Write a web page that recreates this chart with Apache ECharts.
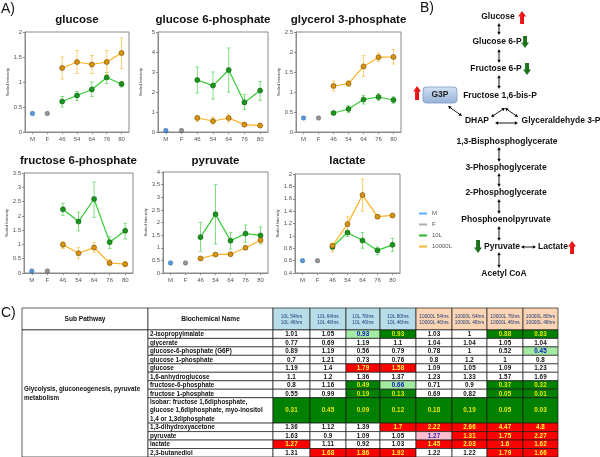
<!DOCTYPE html>
<html><head><meta charset="utf-8">
<script src="https://cdn.jsdelivr.net/npm/echarts@6/dist/echarts.min.js"></script>
<style>html,body{margin:0;padding:0;background:#fff}#c{width:600px;height:457px}</style>
</head><body><div id="c"></div>
<script>
// ---------------- DATA ----------------
const categories = ['M', 'F', '46', '54', '64', '76', '80'];
const plotTitles = ['glucose', 'glucose 6-phosphate', 'glycerol 3-phosphate', 'fructose 6-phosphate', 'pyruvate', 'lactate'];
const yMins = [0, 0, 0, 0, 0, 0.4];
const yMaxs = [2, 5, 2.5, 3.5, 4, 2];
const yIntervals = [0.5, 1, 0.5, 0.5, 0.5, 0.2];
const maleValues = [0.37, 0.07, 0.35, 0.07, 0.40, 0.60];
const femaleValues = [0.37, 0.07, 0.35, 0.07, 0.40, 0.60];
const tenL = [
  [0.61, 0.73, 0.85, 1.09, 0.96],
  [2.60, 2.32, 3.10, 1.48, 2.07],
  [0.475, 0.575, 0.81, 0.875, 0.80],
  [2.23, 1.80, 2.59, 1.08, 1.48],
  [1.42, 2.33, 1.28, 1.56, 1.49],
  [0.82, 1.055, 0.925, 0.765, 0.855]
];
const tenLLow = [
  [0.50, 0.63, 0.71, 0.97, 0.90],
  [1.95, 1.65, 2.00, 1.12, 1.58],
  [0.44, 0.49, 0.70, 0.79, 0.72],
  [2.01, 1.47, 1.95, 0.86, 1.19],
  [0.86, 1.15, 0.95, 1.22, 1.15],
  [0.79, 0.99, 0.80, 0.695, 0.75]
];
const tenLHigh = [
  [0.71, 0.81, 1.00, 1.19, 1.01],
  [3.25, 3.00, 4.20, 1.88, 2.52],
  [0.51, 0.66, 0.91, 0.96, 0.88],
  [2.44, 2.13, 3.18, 1.27, 1.74],
  [2.00, 3.50, 1.61, 1.90, 1.83],
  [0.87, 1.15, 1.055, 0.82, 0.96]
];
const tenThousandL = [
  [1.28, 1.40, 1.35, 1.40, 1.58],
  [0.70, 0.55, 0.70, 0.37, 0.32],
  [1.15, 1.21, 1.64, 1.87, 1.875],
  [0.99, 0.69, 0.89, 0.35, 0.31],
  [0.575, 0.73, 0.745, 1.00, 1.30],
  [0.84, 1.19, 1.66, 1.31, 1.33]
];
const tenThousandLLow = [
  [1.06, 1.17, 1.17, 1.15, 1.27],
  [0.53, 0.40, 0.50, 0.27, 0.23],
  [1.025, 1.14, 1.39, 1.77, 1.70],
  [0.86, 0.50, 0.73, 0.26, 0.24],
  [0.54, 0.69, 0.71, 0.95, 1.18],
  [0.74, 1.08, 1.40, 1.28, 1.30]
];
const tenThousandLHigh = [
  [1.50, 1.63, 1.53, 1.63, 1.88],
  [0.83, 0.75, 0.90, 0.47, 0.40],
  [1.275, 1.28, 1.91, 1.975, 2.06],
  [1.10, 0.89, 1.07, 0.47, 0.40],
  [0.61, 0.77, 0.78, 1.05, 1.44],
  [0.88, 1.31, 1.92, 1.34, 1.36]
];
const legendNames = ['M', 'F', '10L', '10000L'];

const pathwayNodes = ['Glucose', 'Glucose 6-P', 'Fructose 6-P', 'Fructose 1,6-bis-P', 'DHAP', 'Glyceraldehyde 3-P',
  '1,3-Bisphosphoglycerate', '3-Phosphoglycerate', '2-Phosphoglycerate', 'Phosphoenolpyruvate', 'Pyruvate', 'Lactate', 'Acetyl CoA'];
const pathwayChange = { 'Glucose': 'up', 'Glucose 6-P': 'down', 'Fructose 6-P': 'down', 'G3P': 'up', 'Pyruvate': 'down', 'Lactate': 'up' };

const tableHeaders = ['Sub Pathway', 'Biochemical Name'];
const comparisonHeaders = ['10L 54hrs\n10L 46hrs', '10L 64hrs\n10L 46hrs', '10L 76hrs\n10L 46hrs', '10L 80hrs\n10L 46hrs',
  '10000L 54hrs\n10000L 46hrs', '10000L 64hrs\n10000L 46hrs', '10000L 76hrs\n10000L 46hrs', '10000L 80hrs\n10000L 46hrs'];
const subPathway = 'Glycolysis, gluconeogenesis, pyruvate\nmetabolism';
const biochemicalNames = ['2-isopropylmalate', 'glycerate', 'glucose-6-phosphate (G6P)', 'glucose 1-phosphate', 'glucose',
  '1,6-anhydroglucose', 'fructose-6-phosphate', 'fructose 1-phosphate',
  'Isobar: fructose 1,6diphosphate,\nglucose 1,6diphosphate, myo-inositol\n1,4 or 1,3diphosphate',
  '1,3-dihydroxyacetone', 'pyruvate', 'lactate', '2,3-butanediol'];
const foldChange = [
  [1.01, 1.05, 0.93, 0.93, 1.03, 1, 0.88, 0.83],
  [0.77, 0.69, 1.19, 1.1, 1.04, 1.04, 1.05, 1.04],
  [0.89, 1.19, 0.56, 0.79, 0.78, 1, 0.52, 0.45],
  [0.7, 1.21, 0.73, 0.76, 0.8, 1.2, 1, 0.8],
  [1.19, 1.4, 1.79, 1.58, 1.09, 1.05, 1.09, 1.23],
  [1.1, 1.2, 1.36, 1.37, 1.23, 1.33, 1.57, 1.69],
  [0.8, 1.16, 0.49, 0.66, 0.71, 0.9, 0.37, 0.32],
  [0.55, 0.99, 0.19, 0.13, 0.69, 0.82, 0.05, 0.01],
  [0.31, 0.45, 0.09, 0.12, 0.18, 0.19, 0.05, 0.03],
  [1.36, 1.12, 1.39, 1.7, 2.22, 2.66, 4.47, 4.8],
  [1.63, 0.9, 1.09, 1.05, 1.27, 1.31, 1.75, 2.27],
  [1.27, 1.11, 0.92, 1.03, 1.45, 2.03, 1.6, 1.62],
  [1.31, 1.68, 1.86, 1.92, 1.22, 1.22, 1.79, 1.66]
];
// D = significant decrease, d = trend decrease, U = significant increase, u = trend increase, . = none
const significance = ['..dD..DD', '........', '.......d', '........', '..UU....', '........', '..Dd..DD',
  '..DD..DD', 'DDDDDDDD', '...UUUUU', '....uUUU', 'U...UUUU', '.UUU..UU'];

// ---------------- LAYOUT / STYLE ----------------
const FONT = "'Liberation Sans', Arial, Helvetica, sans-serif";
const plotBoxes = [[25, 32, 104, 100], [158, 32, 110, 100], [296, 32, 105, 100],
                   [24, 173, 109, 100], [163, 172, 105, 101], [295, 174, 105, 99]];
const titleY = [20, 20, 20, 161, 161, 161];
const C = {
  m: '#2a7fd4', mBorder: '#1a4f8a', f: '#7a7a7a', fBorder: '#444',
  gLine: '#33cc33', gMark: '#1c951c', gBorder: '#0d5a0d', gErr: '#80e080',
  oLine: '#ffb020', oMark: '#d99410', oBorder: '#6e4a00', oErr: '#ffcf70'
};
const sigStyle = {
  'D': { fill: '#008000', text: '#e8e800' },
  'd': { fill: '#a3eaa3', text: '#1010c0' },
  'U': { fill: '#ff0000', text: '#ffff30' },
  'u': { fill: '#ffbfd0', text: '#2a2ab0' },
  '.': { fill: '#ffffff', text: '#111111' }
};

const chart = echarts.init(document.getElementById('c'), null, { renderer: 'canvas' });

const grids = [], xAxes = [], yAxes = [], series = [], graphics = [];

function errRender(params, api) {
  const x = api.value(0), lo = api.value(1), hi = api.value(2);
  const p1 = api.coord([x, lo]), p2 = api.coord([x, hi]);
  const w = 1.8;
  const st = { stroke: api.visual('color'), lineWidth: 1 };
  return { type: 'group', children: [
    { type: 'line', shape: { x1: p1[0], y1: p1[1], x2: p2[0], y2: p2[1] }, style: st },
    { type: 'line', shape: { x1: p1[0] - w, y1: p1[1], x2: p1[0] + w, y2: p1[1] }, style: st },
    { type: 'line', shape: { x1: p2[0] - w, y1: p2[1], x2: p2[0] + w, y2: p2[1] }, style: st }
  ]};
}

plotBoxes.forEach((b, i) => {
  grids.push({ left: b[0], top: b[1], width: b[2], height: b[3], show: true, borderColor: '#8a8a8a', borderWidth: 1, backgroundColor: '#fff' });
  xAxes.push({
    type: 'category', gridIndex: i, data: categories, boundaryGap: true,
    axisLine: { show: true, lineStyle: { color: '#8a8a8a', width: 1 } },
    axisTick: { show: true, alignWithLabel: true, length: 2, lineStyle: { color: '#8a8a8a' } },
    axisLabel: { fontSize: 6, color: '#555', margin: 4, fontFamily: FONT, interval: 0 },
    splitLine: { show: false }
  });
  yAxes.push({
    type: 'value', gridIndex: i, min: yMins[i], max: yMaxs[i], interval: yIntervals[i],
    axisLine: { show: true, lineStyle: { color: '#8a8a8a', width: 1 } },
    axisTick: { show: true, length: 2, lineStyle: { color: '#8a8a8a' } },
    axisLabel: { fontSize: 6, color: '#555', margin: 3, fontFamily: FONT },
    splitLine: { show: false },
    name: 'Scaled Intensity', nameLocation: 'middle', nameGap: 15,
    nameTextStyle: { fontSize: 4, color: '#333', fontFamily: FONT }
  });
  series.push({
    name: 'M', type: 'scatter', xAxisIndex: i, yAxisIndex: i, z: 4,
    data: [[0, maleValues[i]]], symbolSize: 4.5,
    itemStyle: { color: C.m, borderColor: C.mBorder, borderWidth: 0.5 }
  });
  series.push({
    name: 'F', type: 'scatter', xAxisIndex: i, yAxisIndex: i, z: 4,
    data: [[1, femaleValues[i]]], symbolSize: 4.5,
    itemStyle: { color: C.f, borderColor: C.fBorder, borderWidth: 0.5 }
  });
  series.push({
    name: '10L err', type: 'custom', xAxisIndex: i, yAxisIndex: i, z: 1,
    renderItem: errRender, itemStyle: { color: C.gErr }, encode: { x: 0, y: [1, 2] },
    data: tenL[i].map((v, k) => [k + 2, tenLLow[i][k], tenLHigh[i][k]])
  });
  series.push({
    name: '10000L err', type: 'custom', xAxisIndex: i, yAxisIndex: i, z: 1,
    renderItem: errRender, itemStyle: { color: C.oErr }, encode: { x: 0, y: [1, 2] },
    data: tenThousandL[i].map((v, k) => [k + 2, tenThousandLLow[i][k], tenThousandLHigh[i][k]])
  });
  series.push({
    name: '10L', type: 'line', xAxisIndex: i, yAxisIndex: i, z: 3,
    data: categories.map((c, k) => k < 2 ? '-' : tenL[i][k - 2]),
    symbol: 'circle', symbolSize: 5, showSymbol: true,
    lineStyle: { color: C.gLine, width: 1.2 },
    itemStyle: { color: C.gMark, borderColor: C.gBorder, borderWidth: 0.6 }
  });
  series.push({
    name: '10000L', type: 'line', xAxisIndex: i, yAxisIndex: i, z: 3,
    data: categories.map((c, k) => k < 2 ? '-' : tenThousandL[i][k - 2]),
    symbol: 'circle', symbolSize: 5, showSymbol: true,
    lineStyle: { color: C.oLine, width: 1.2 },
    itemStyle: { color: C.oMark, borderColor: C.oBorder, borderWidth: 0.6 }
  });
  graphics.push({
    type: 'text', silent: true,
    style: { text: plotTitles[i], x: b[0] + b[2] / 2, y: titleY[i], align: 'center', verticalAlign: 'middle',
      fontSize: 11.5, fontWeight: 'bold', fontFamily: FONT, fill: '#111' }
  });
});

// panel labels
[['A)', 1, 9], ['B)', 420, 8], ['C)', 1, 313]].forEach(p => graphics.push({
  type: 'text', silent: true,
  style: { text: p[0], x: p[1], y: p[2], verticalAlign: 'middle', fontSize: 14, fontFamily: FONT, fill: '#111' }
}));

// ---------------- PATHWAY (B) ----------------
const nodePos = {
  'Glucose': [498, 17], 'Glucose 6-P': [497, 42], 'Fructose 6-P': [496, 69], 'Fructose 1,6-bis-P': [500, 96],
  'DHAP': [477, 121], 'Glyceraldehyde 3-P': [561, 121], '1,3-Bisphosphoglycerate': [507, 142],
  '3-Phosphoglycerate': [506, 168], '2-Phosphoglycerate': [506, 193], 'Phosphoenolpyruvate': [506, 220],
  'Pyruvate': [502, 247], 'Lactate': [553, 247], 'Acetyl CoA': [504, 274]
};
pathwayNodes.forEach(n => graphics.push({
  type: 'text', silent: true,
  style: { text: n, x: nodePos[n][0], y: nodePos[n][1], align: 'center', verticalAlign: 'middle',
    fontSize: 8.5, fontWeight: 'bold', fontFamily: FONT, fill: '#111' }
}));
// G3P box
graphics.push({
  type: 'rect', silent: true, shape: { x: 423, y: 87, width: 34, height: 16, r: 3 },
  style: { fill: new echarts.graphic.LinearGradient(0, 0, 0, 1, [{ offset: 0, color: '#d3e2f4' }, { offset: 1, color: '#93b2d8' }]),
    stroke: '#7d9cc4', lineWidth: 0.8 }
});
graphics.push({
  type: 'text', silent: true,
  style: { text: 'G3P', x: 440, y: 95, align: 'center', verticalAlign: 'middle', fontSize: 8.5, fontWeight: 'bold', fontFamily: FONT, fill: '#222' }
});

function dblArrow(x1, y1, x2, y2) {
  const a = Math.atan2(y2 - y1, x2 - x1), L = 3.2, W = 1.7;
  const ca = Math.cos(a), sa = Math.sin(a);
  const head = (x, y, d) => ({
    type: 'polygon', silent: true,
    shape: { points: [[x, y], [x - d * L * ca + W * sa, y - d * L * sa - W * ca], [x - d * L * ca - W * sa, y - d * L * sa + W * ca]] },
    style: { fill: '#000' }
  });
  graphics.push({ type: 'line', silent: true, shape: { x1: x1 + L * ca, y1: y1 + L * sa, x2: x2 - L * ca, y2: y2 - L * sa }, style: { stroke: '#000', lineWidth: 0.9 } });
  graphics.push(head(x2, y2, 1));
  graphics.push(head(x1, y1, -1));
}
[[499, 23, 499, 35], [499, 49, 499, 63], [499, 75, 499, 89], [499, 147, 499, 162], [499, 173, 499, 187],
 [499, 199, 499, 214], [499, 226, 499, 241], [499, 252, 499, 268],
 [505, 108, 491, 117], [505, 108, 518, 117], [495, 123, 518, 123], [448, 106, 462, 116], [521, 247, 536, 247]]
  .forEach(a => dblArrow(a[0], a[1], a[2], a[3]));

function bigArrow(cx, yTop, yBot, dir) {
  const hw = 4, sw = 2, hh = 5.5;
  let pts;
  if (dir === 'up') {
    pts = [[cx, yTop], [cx + hw, yTop + hh], [cx + sw, yTop + hh], [cx + sw, yBot], [cx - sw, yBot], [cx - sw, yTop + hh], [cx - hw, yTop + hh]];
  } else {
    pts = [[cx, yBot], [cx + hw, yBot - hh], [cx + sw, yBot - hh], [cx + sw, yTop], [cx - sw, yTop], [cx - sw, yBot - hh], [cx - hw, yBot - hh]];
  }
  const col = dir === 'up'
    ? new echarts.graphic.LinearGradient(0, 0, 1, 0, [{ offset: 0, color: '#ff3030' }, { offset: 1, color: '#d00000' }])
    : new echarts.graphic.LinearGradient(0, 0, 1, 0, [{ offset: 0, color: '#2a8a2a' }, { offset: 1, color: '#145f14' }]);
  graphics.push({ type: 'polygon', silent: true, shape: { points: pts }, style: { fill: col } });
}
const changeArrowPos = { 'Glucose': [522, 11, 24], 'Glucose 6-P': [525, 36, 48], 'Fructose 6-P': [527, 63, 75],
  'G3P': [417, 86, 100], 'Pyruvate': [478, 240, 253], 'Lactate': [572, 241, 254] };
Object.keys(pathwayChange).forEach(k => {
  const p = changeArrowPos[k];
  bigArrow(p[0], p[1], p[2], pathwayChange[k]);
});

// ---------------- TABLE (C) ----------------
const UNIT = 8.5;
const colWidths = [126, 125, 37, 36, 34, 36, 36, 35, 36, 35];
const colEdges = [0];
colWidths.forEach(w => colEdges.push(colEdges[colEdges.length - 1] + w));
const hdrUnits = 22 / UNIT;
const rowEdges = [0, hdrUnits];
biochemicalNames.forEach(n => rowEdges.push(rowEdges[rowEdges.length - 1] + n.split('\n').length));
const totalUnits = rowEdges[rowEdges.length - 1];

const cells = [];
const tableData = [];
function addCell(c0, c1, r0, r1, spec) {
  cells.push(spec);
  tableData.push([colEdges[c0], rowEdges[r0], colEdges[c1], rowEdges[r1]]);
}
addCell(0, 1, 0, 1, { text: tableHeaders[0], fill: '#fff', color: '#111', bold: true, size: 6.6, align: 'center' });
addCell(1, 2, 0, 1, { text: tableHeaders[1], fill: '#fff', color: '#111', bold: true, size: 6.6, align: 'center' });
comparisonHeaders.forEach((h, j) => addCell(j + 2, j + 3, 0, 1, {
  text: h, fill: j < 4 ? '#b7dde8' : '#fbd4b4', color: '#1f3d7a', bold: false, size: 4.8, align: 'center', lh: 6
}));
addCell(0, 1, 1, rowEdges.length - 1, { text: subPathway, fill: '#fff', color: '#111', bold: true, size: 6.3, align: 'left', lh: 9 });
biochemicalNames.forEach((n, r) => {
  addCell(1, 2, r + 1, r + 2, { text: n, fill: '#fff', color: '#111', bold: true, size: 6.3, align: 'left', lh: UNIT });
  foldChange[r].forEach((v, j) => {
    const s = sigStyle[significance[r][j]];
    addCell(j + 2, j + 3, r + 1, r + 2, { text: String(v), fill: s.fill, color: s.text, bold: true, size: 6.3, align: 'center' });
  });
});

const tableGrid = grids.length;
grids.push({ left: 22, top: 308, width: colEdges[colEdges.length - 1], height: totalUnits * UNIT, show: false });
xAxes.push({ type: 'value', gridIndex: tableGrid, min: 0, max: colEdges[colEdges.length - 1], show: false });
yAxes.push({ type: 'value', gridIndex: tableGrid, min: 0, max: totalUnits, inverse: true, show: false });
series.push({
  type: 'custom', name: 'table', xAxisIndex: tableGrid, yAxisIndex: tableGrid, silent: true, clip: false,
  encode: { x: [0, 2], y: [1, 3] },
  data: tableData,
  renderItem: function (params, api) {
    const c = cells[params.dataIndex];
    const p0 = api.coord([api.value(0), api.value(1)]);
    const p1 = api.coord([api.value(2), api.value(3)]);
    const w = p1[0] - p0[0], h = p1[1] - p0[1];
    return { type: 'group', children: [
      { type: 'rect', shape: { x: p0[0], y: p0[1], width: w, height: h }, style: { fill: c.fill, stroke: '#1a1a1a', lineWidth: 0.7 } },
      { type: 'text', style: { text: c.text, x: c.align === 'left' ? p0[0] + 2 : p0[0] + w / 2, y: p0[1] + h / 2 + 0.3,
          align: c.align, verticalAlign: 'middle', fontSize: c.size, fontWeight: c.bold ? 'bold' : 'normal',
          fontFamily: FONT, fill: c.color, lineHeight: c.lh || c.size + 1 } }
    ]};
  }
});

const option = {
  backgroundColor: '#fff',
  animation: false,
  grid: grids, xAxis: xAxes, yAxis: yAxes, series: series,
  legend: {
    orient: 'vertical', left: 414, top: 205, itemWidth: 8, itemHeight: 2, itemGap: 4, selectedMode: false,
    textStyle: { fontSize: 6, color: '#555', fontFamily: FONT, lineHeight: 7 },
    data: [
      { name: 'M', icon: 'rect', itemStyle: { color: '#3399ff', borderWidth: 0 } },
      { name: 'F', icon: 'rect', itemStyle: { color: '#999999', borderWidth: 0 } },
      { name: '10L', icon: 'rect', itemStyle: { color: '#22bb22', borderWidth: 0 } },
      { name: '10000L', icon: 'rect', itemStyle: { color: '#ffb733', borderWidth: 0 } }
    ]
  },
  graphic: graphics
};
chart.setOption(option);
</script></body></html>
